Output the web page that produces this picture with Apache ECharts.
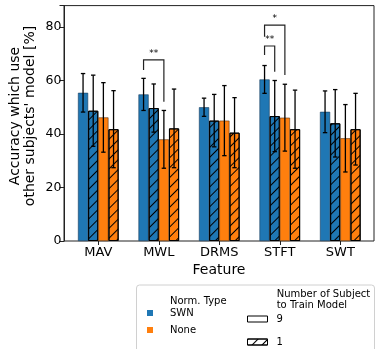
<!DOCTYPE html>
<html lang="en">
<head>
    <meta charset="utf-8">
    <title>Accuracy by feature</title>
    <script src="https://cdn.jsdelivr.net/npm/echarts@6/dist/echarts.min.js"></script>
</head>
<body style="margin:0">
<div id="main" style="width: 381px;height:349px;"></div>
<script type="text/javascript">
    // values
    var features = ['MAV', 'MWL', 'DRMS', 'STFT', 'SWT'];
    var swn9 = [55.4, 54.8, 50.0, 60.4, 48.3];
    var swn9Err = [7.2, 6.0, 3.4, 5.2, 7.8];
    var swn1 = [48.7, 49.7, 45.0, 46.7, 44.0];
    var swn1Err = [13.3, 9.0, 9.8, 13.3, 12.6];
    var none9 = [46.2, 38.0, 45.0, 46.1, 38.4];
    var none9Err = [13.0, 10.8, 13.1, 12.5, 12.6];
    var none1 = [41.8, 42.1, 40.5, 41.8, 41.8];
    var none1Err = [14.4, 14.7, 13.1, 14.6, 13.4];
    var yTicks = [0, 20, 40, 60, 80];

    // significance brackets: feature, left bar, right bar, top, left leg end, right leg end, mark
    var sigFeature = [1, 3, 3];
    var sigFrom = [0, 0, 0];
    var sigTo = [2, 1, 2];
    var sigTop = [67.7, 72.9, 80.7];
    var sigLeftEnd = [63.9, 69.5, 76.4];
    var sigRightEnd = [52.1, 63.3, 62.1];
    var sigText = ['**', '**', '*'];

    var blue = '#1f77b4', orange = '#ff7f0e';
    var font = 'DejaVu Sans';
    var barFrac = 0.168;
    var yMax = 88;
    var hatch = {
        symbol: 'rect', symbolSize: 1,
        dashArrayX: [1, 0], dashArrayY: [1, 6],
        rotation: -Math.PI / 4, color: '#000'
    };

    var means = [swn9, swn1, none9, none1];
    var errs = [swn9Err, swn1Err, none9Err, none1Err];
    var errData = [];
    for (var i = 0; i < features.length; i++) {
        for (var k = 0; k < 4; k++) {
            errData.push([i, k, means[k][i], errs[k][i]]);
        }
    }
    var sigData = [];
    for (var j = 0; j < sigText.length; j++) {
        sigData.push([sigFeature[j], sigFrom[j], sigTo[j], sigTop[j], sigLeftEnd[j], sigRightEnd[j]]);
    }

    function barX(api, cat, k) {
        var band = api.size([1, 0])[0];
        return api.coord([cat, 0])[0] + (k - 1.5) * band * barFrac;
    }

    var myChart = echarts.init(document.getElementById('main'));
    var option = {
        animation: false,
        backgroundColor: '#fff',
        textStyle: {fontFamily: font},
        grid: [
            {left: 64, right: 7, top: 5.6, bottom: 108, show: true, borderColor: '#222', borderWidth: 1},
            {left: 68.05, right: 10.45, top: 5.6, bottom: 108}
        ],
        xAxis: [
            {gridIndex: 0, type: 'value', min: 0, max: 1, show: false},
            {
                gridIndex: 1, type: 'category', data: features,
                axisLine: {show: false},
                axisTick: {show: true, alignWithLabel: true, length: 4, lineStyle: {color: '#222'}},
                axisLabel: {fontSize: 13, color: '#000', margin: 5, fontFamily: font}
            }
        ],
        yAxis: [
            {
                gridIndex: 0, type: 'value', min: 0, max: yMax, interval: 20,
                axisLine: {show: true, lineStyle: {color: '#222'}},
                axisTick: {show: true, length: 4.5, lineStyle: {color: '#222'}},
                axisLabel: {
                    fontSize: 12.5, color: '#000', margin: 2.5, fontFamily: font,
                    formatter: function (v) { return yTicks.indexOf(v) >= 0 ? String(v) : ''; }
                },
                splitLine: {show: false}
            },
            {gridIndex: 1, type: 'value', min: 0, max: yMax, show: false}
        ],
        legend: [
            {
                data: [
                    {name: 'SWN', icon: 'rect', itemStyle: {color: blue, borderWidth: 0}},
                    {name: 'None', icon: 'rect', itemStyle: {color: orange, borderWidth: 0}}
                ],
                orient: 'vertical', left: 147, top: 308, padding: 0,
                itemWidth: 6, itemHeight: 6, itemGap: 7, selectedMode: false,
                textStyle: {fontSize: 10, color: '#000', fontFamily: font, padding: [0, 0, 0, 12]}
            },
            {
                data: [
                    {name: '9', icon: 'rect', itemStyle: {color: '#fff', borderColor: '#000', borderWidth: 1}},
                    {name: '1', icon: 'rect', itemStyle: {color: '#fff', borderColor: '#000', borderWidth: 1, decal: hatch}}
                ],
                orient: 'vertical', left: 247, top: 314, padding: 0,
                itemWidth: 20, itemHeight: 6, itemGap: 13, selectedMode: false,
                textStyle: {fontSize: 10, color: '#000', fontFamily: font, padding: [0, 0, 0, 4]}
            }
        ],
        graphic: [
            {
                type: 'rect', z: -1,
                shape: {x: 136.5, y: 285, width: 238, height: 75, r: 3},
                style: {fill: '#fff', stroke: '#d0d0d0', lineWidth: 1}
            },
            {
                type: 'text', x: 170, y: 301,
                style: {text: 'Norm. Type', fontSize: 10, fontFamily: font, fill: '#000', verticalAlign: 'middle'}
            },
            {
                type: 'text', x: 276.7, y: 299.5,
                style: {text: 'Number of Subject\nto Train Model', fontSize: 10, lineHeight: 11, fontFamily: font, fill: '#000', verticalAlign: 'middle'}
            },
            {
                type: 'text', x: 22.5, y: 116, rotation: Math.PI / 2,
                style: {
                    text: 'Accuracy which use\nother subjects\' model [%]',
                    fontSize: 14, lineHeight: 15, fontFamily: font, fill: '#000',
                    align: 'center', verticalAlign: 'middle'
                }
            },
            {
                type: 'text', x: 219, y: 270,
                style: {text: 'Feature', fontSize: 14, fontFamily: font, fill: '#000', align: 'center', verticalAlign: 'middle'}
            }
        ],
        series: [
            {
                name: 'SWN 9', type: 'bar', xAxisIndex: 1, yAxisIndex: 1, data: swn9,
                barWidth: (barFrac * 100) + '%', barGap: '0%',
                itemStyle: {color: blue, borderColor: '#1a3d5c', borderWidth: 0.6}
            },
            {
                name: 'SWN 1', type: 'bar', xAxisIndex: 1, yAxisIndex: 1, data: swn1,
                barWidth: (barFrac * 100) + '%', barGap: '0%',
                itemStyle: {color: blue, borderColor: '#000', borderWidth: 1, decal: hatch}
            },
            {
                name: 'None 9', type: 'bar', xAxisIndex: 1, yAxisIndex: 1, data: none9,
                barWidth: (barFrac * 100) + '%', barGap: '0%',
                itemStyle: {color: orange, borderColor: '#5c3310', borderWidth: 0.6}
            },
            {
                name: 'None 1', type: 'bar', xAxisIndex: 1, yAxisIndex: 1, data: none1,
                barWidth: (barFrac * 100) + '%', barGap: '0%',
                itemStyle: {color: orange, borderColor: '#000', borderWidth: 1, decal: hatch}
            },
            {
                name: 'errors', type: 'custom', xAxisIndex: 1, yAxisIndex: 1, z: 5,
                data: errData, encode: {x: 0, y: 2},
                renderItem: function (params, api) {
                    var c = api.value(0), k = api.value(1), m = api.value(2), e = api.value(3);
                    var x = barX(api, c, k);
                    var yt = api.coord([c, m + e])[1];
                    var yb = api.coord([c, m - e])[1];
                    var cap = 2.2;
                    var st = {stroke: '#000', lineWidth: 1.3};
                    return {
                        type: 'group', children: [
                            {type: 'line', shape: {x1: x, y1: yt, x2: x, y2: yb}, style: st},
                            {type: 'line', shape: {x1: x - cap, y1: yt, x2: x + cap, y2: yt}, style: st},
                            {type: 'line', shape: {x1: x - cap, y1: yb, x2: x + cap, y2: yb}, style: st}
                        ]
                    };
                }
            },
            {
                name: 'sig', type: 'custom', xAxisIndex: 1, yAxisIndex: 1, z: 5,
                data: sigData, encode: {x: 0, y: 3},
                renderItem: function (params, api) {
                    var c = api.value(0);
                    var xl = barX(api, c, api.value(1));
                    var xr = barX(api, c, api.value(2));
                    var yTop = api.coord([c, api.value(3)])[1];
                    var yl = api.coord([c, api.value(4)])[1];
                    var yr = api.coord([c, api.value(5)])[1];
                    return {
                        type: 'group', children: [
                            {
                                type: 'polyline',
                                shape: {points: [[xl, yl], [xl, yTop], [xr, yTop], [xr, yr]]},
                                style: {stroke: '#222', lineWidth: 1.2, fill: null}
                            },
                            {
                                type: 'text', x: (xl + xr) / 2, y: yTop - 2,
                                style: {
                                    text: sigText[params.dataIndex], fontSize: 9, fontFamily: font,
                                    fill: '#000', align: 'center', verticalAlign: 'bottom'
                                }
                            }
                        ]
                    };
                }
            },
            {name: 'SWN', type: 'custom', xAxisIndex: 1, yAxisIndex: 1, data: [], itemStyle: {color: blue}, renderItem: function () { return null; }},
            {name: 'None', type: 'custom', xAxisIndex: 1, yAxisIndex: 1, data: [], itemStyle: {color: orange}, renderItem: function () { return null; }},
            {name: '9', type: 'custom', xAxisIndex: 1, yAxisIndex: 1, data: [], itemStyle: {color: '#fff'}, renderItem: function () { return null; }},
            {name: '1', type: 'custom', xAxisIndex: 1, yAxisIndex: 1, data: [], itemStyle: {color: '#fff', decal: hatch}, renderItem: function () { return null; }}
        ]
    };

    myChart.setOption(option);
</script>
</body>
</html>
